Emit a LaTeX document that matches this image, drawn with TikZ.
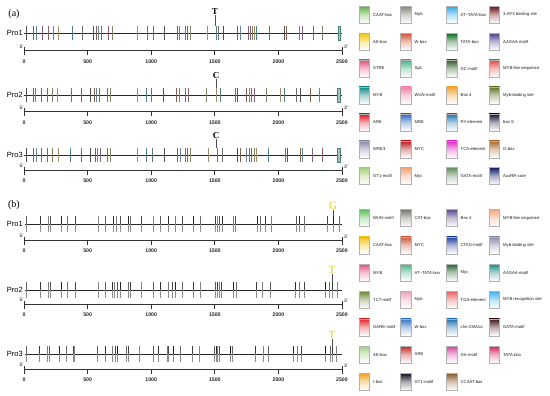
\documentclass[tikz,border=0pt]{standalone}
\usepackage{fontspec}
\setmainfont{Liberation Serif}
\setsansfont{Liberation Sans}
\usetikzlibrary{calc}
% legend colours (a)
\definecolor{aA1}{HTML}{5DB043}\definecolor{aA2}{HTML}{85857A}\definecolor{aA3}{HTML}{2EA6E8}\definecolor{aA4}{HTML}{6A0F12}
\definecolor{aB1}{HTML}{F2C500}\definecolor{aB2}{HTML}{D0502E}\definecolor{aB3}{HTML}{0A6A1E}\definecolor{aB4}{HTML}{4A3A86}
\definecolor{aC1}{HTML}{E2497A}\definecolor{aC2}{HTML}{3DB384}\definecolor{aC3}{HTML}{2B5A22}\definecolor{aC4}{HTML}{E2453F}
\definecolor{aD1}{HTML}{128585}\definecolor{aD2}{HTML}{F07FA2}\definecolor{aD3}{HTML}{F3A233}\definecolor{aD4}{HTML}{5E7226}
\definecolor{aE1}{HTML}{E0101E}\definecolor{aE2}{HTML}{2564C4}\definecolor{aE3}{HTML}{1A73B5}\definecolor{aE4}{HTML}{0F1030}
\definecolor{aF1}{HTML}{8484A2}\definecolor{aF2}{HTML}{B5121A}\definecolor{aF3}{HTML}{E21FC2}\definecolor{aF4}{HTML}{A36325}
\definecolor{aG1}{HTML}{A2D276}\definecolor{aG2}{HTML}{F3A374}\definecolor{aG3}{HTML}{628D5E}\definecolor{aG4}{HTML}{101C62}
% legend colours (b)
\definecolor{bA1}{HTML}{5FBF55}\definecolor{bA2}{HTML}{76786E}\definecolor{bA3}{HTML}{5A4A8E}\definecolor{bA4}{HTML}{F4A57E}
\definecolor{bB1}{HTML}{F4C21A}\definecolor{bB2}{HTML}{C9583A}\definecolor{bB3}{HTML}{1E3C9C}\definecolor{bB4}{HTML}{8A8AA8}
\definecolor{bC1}{HTML}{E2507C}\definecolor{bC2}{HTML}{45B486}\definecolor{bC3}{HTML}{2A6232}\definecolor{bC4}{HTML}{1A8A80}
\definecolor{bD1}{HTML}{6B8A3A}\definecolor{bD2}{HTML}{F0A0BA}\definecolor{bD3}{HTML}{E86262}\definecolor{bD4}{HTML}{40B0F0}
\definecolor{bE1}{HTML}{E02228}\definecolor{bE2}{HTML}{3272C2}\definecolor{bE3}{HTML}{1F6EAE}\definecolor{bE4}{HTML}{3A1212}
\definecolor{bF1}{HTML}{A2D282}\definecolor{bF2}{HTML}{C42424}\definecolor{bF3}{HTML}{D442A2}\definecolor{bF4}{HTML}{D22262}
\definecolor{bG1}{HTML}{F2A222}\definecolor{bG2}{HTML}{12121E}\definecolor{bG3}{HTML}{8A5A2A}
% mark colours
\definecolor{mk0}{HTML}{6E6E6E}\definecolor{mk1}{HTML}{A08E6A}\definecolor{mk2}{HTML}{8E606A}
\definecolor{mk3}{HTML}{6A8498}\definecolor{mk4}{HTML}{505050}\definecolor{mk5}{HTML}{4E8080}
\definecolor{mk6}{HTML}{848462}\definecolor{mk7}{HTML}{80647E}\definecolor{mk8}{HTML}{80604E}
\definecolor{snpyellow}{HTML}{E6CF00}
\tikzset{
  track/.style={line width=0.8pt, black!85},
  rulerline/.style={line width=0.7pt, black!80},
  prolbl/.style={font=\sffamily\fontsize{7.5}{8}\selectfont, anchor=east, inner sep=0pt},
  numlbl/.style={font=\sffamily\bfseries\fontsize{5.2}{6}\selectfont, inner sep=0pt, text=black!85},
  endlbl/.style={font=\sffamily\fontsize{4.8}{5}\selectfont, inner sep=0pt},
  leglbl/.style={font=\sffamily\fontsize{4.2}{5}\selectfont, anchor=west, inner sep=0pt, text=black!90},
  swatch/.style={draw=black!30, line width=0.3pt},
  panel/.style={font=\fontsize{10}{11}\selectfont, inner sep=0pt},
  snplbl/.style={font=\bfseries\fontsize{9}{10}\selectfont, inner sep=0pt},
  ysnplbl/.style={font=\fontsize{11}{12}\selectfont, text=snpyellow, inner sep=0pt},
  stem/.style={line width=0.5pt, black!70},
}
\newcommand\myruler[2]{% #1 y, #2 name prefix
  \draw[rulerline] (24,#1) -- (342,#1);
  \draw[rulerline] (24,#1-3) -- (24,#1+5);
  \draw[rulerline] (342,#1-3) -- (342,#1+5);
  \foreach \v in {500,1000,1500,2000} {\draw[rulerline] ({24+\v*0.1272},#1) -- ++(0,5);}
  \foreach \v in {0,500,1000,1500,2000,2500} {\node[numlbl] (#2n\v) at ({24+\v*0.1272},#1+11) {\v};}
  \node[endlbl] (#2five) at (21.5,#1-4) {5'};
  \node[endlbl] (#2three) at (346,#1-3.5) {3'};
}
\newcommand\amarks[2]{% #1 y, #2 list
  \foreach \x [count=\i] in {#2} {%
    \pgfmathtruncatemacro\k{mod(\i*4,9)}%
    \draw[mk\k, line width=0.8pt] (\x,#1-7) -- (\x,#1+7);}
}
\newcommand\bmarks[2]{% #1 y, #2 list
  \foreach \x [count=\i] in {#2} {%
    \pgfmathtruncatemacro\k{45+mod(\i*17,45)}%
    \draw[black!\k, line width=0.8pt] (\x,#1-8) -- (\x,#1);
    \draw[black!45, line width=0.8pt] (\x,#1) -- (\x,#1+8);}
}
\newcommand\legitem[4]{% x, ycenter, colour, text
  \shade[top color=#3, bottom color=white, middle color=#3!35!white] (#1,#2-8.5) rectangle (#1+10.5,#2+8.5);
  \draw[swatch] (#1,#2-8.5) rectangle (#1+10.5,#2+8.5);
  \node[leglbl] at (#1+14,#2) {#4};
}
\begin{document}
\begin{tikzpicture}[x=1pt,y=-1pt]
\useasboundingbox[fill=white] (0,0) rectangle (550,396);
% ================= (a) =================
\node[panel] (pa) at (14,14) {(a)};
% Pro1
\draw[track] (24,33) -- (342,33);
\amarks{33}{26,33,36,42,48,53,58,72,82,93,96,98.5,101.5,108,112,137,147,153,164,177,179,185,187,190,207,216,218,223,237,240,248,250,252.5,254.5,256,269,284,286,299.5,302,313,322}
\draw[draw=mk5, fill=mk5!50, line width=0.4pt] (338,26) rectangle (340.5,40);
\node[prolbl] (a1) at (23,33) {Pro1};
\node[snplbl] (aT) at (215,12) {T};
\draw[stem] (aT.south) -- (215,26);
\myruler{50.5}{ra1}
% Pro2
\draw[track] (24,95) -- (342,95);
\amarks{95}{26.7,33.3,35.5,41.7,47.7,52.7,57,71,81,90,94,96.7,99.3,107.3,110,137.3,146.7,151.7,163.3,176.7,179.3,185,188.3,206.5,216,220.5,235,237.3,246.5,249,251.7,254,266.7,280.7,284,296.7,300,310,319.3}
\draw[draw=mk5, fill=mk5!50, line width=0.4pt] (337.5,88) rectangle (340,102);
\node[prolbl] (a2) at (23,95) {Pro2};
\node[snplbl] (aC2) at (216,76) {C};
\draw[stem] (aC2.south) -- (216,88);
\myruler{111.5}{ra2}
% Pro3
\draw[track] (24,155) -- (342,155);
\amarks{155}{26,33.3,36,41.7,47.3,52.7,58.3,70.7,81.7,90.7,95,97.3,100,107.3,110.7,137.3,146.7,152.7,164,177.3,180,185,187.3,190,208.3,217.3,222.7,237.3,240,246,249.3,251.7,254,256,268.3,285,287,300,302,312,322}
\draw[draw=mk5, fill=mk5!50, line width=0.4pt] (337.5,148) rectangle (340,162);
\node[prolbl] (a3) at (23,155) {Pro3};
\node[snplbl] (aC3) at (216,136) {C};
\draw[stem] (aC3.south) -- (216,148);
\myruler{170}{ra3}
% legend (a)
\foreach \ca/\ta/\cb/\tb/\cc/\tc/\cd/\td [count=\j from 0] in {
  aA1/CAAT-box/aA2/Myb/aA3/AT\textasciitilde TATA-box/aA4/3-AF3 binding site,
  aB1/AE-box/aB2/W box/aB3/TATA-box/aB4/AAGAA-motif,
  aC1/STRE/aC2/Sp1/aC3/GC-motif/aC4/MYB-like sequence,
  aD1/MYB/aD2/WUN-motif/aD3/Box 4/aD4/Myb-binding site,
  aE1/ARE/aE2/MRE/aE3/RY-element/aE4/box S,
  aF1/WRE3/aF2/MYC/aF3/TCA-element/aF4/G-box,
  aG1/GT1-motif/aG2/Myc/aG3/GATA-motif/aG4/AuxRR-core} {
  \pgfmathsetmacro\yy{14.7+26.9*\j}
  \legitem{359}{\yy}{\ca}{\ta}
  \legitem{400.5}{\yy}{\cb}{\tb}
  \legitem{446.5}{\yy}{\cc}{\tc}
  \legitem{489}{\yy}{\cd}{\td}
}
% ================= (b) =================
\node[panel] (pb) at (14,205) {(b)};
% Pro1
\draw[track] (25,224) -- (342,224);
\bmarks{224}{26,40,48,50,61,67,75,98,105,113,116,120,128,130,141,153,160,168,175,182,193,200,215,217,219,222,233,235.5,257,260,265,271,296,299,304,327,333,339}
\node[prolbl] (b1) at (23,224) {Pro1};
\node[ysnplbl] (bG) at (333,206) {G};
\draw[stem] (bG.south) -- (333,216);
\myruler{240}{rb1}
% Pro2
\draw[track] (25,290) -- (342,290);
\bmarks{290}{26,40,48,50,61,67,75,98,105,112,114.5,117,120,128,130,141,153,160,168,172,175,182,193,200,215,217,219,221,233,236,256,262,270,295,299,304,325,329,332,337}
\node[prolbl] (b2) at (23,290) {Pro2};
\node[ysnplbl] (bT2) at (332,270) {T};
\draw[stem] (bT2.south) -- (332,282);
\myruler{304}{rb2}
% Pro3
\draw[track] (25,354) -- (342,354);
\bmarks{354}{26,39.5,47,49.5,59.5,66,73,74.5,97,105,112,115,117.5,126,128.5,139.5,153,158.5,167,168.5,173.5,180,192,199.5,214,216,217.5,219.5,230,232.5,255,263,268,293,297.5,301.5,325,330.5,332,336}
\node[prolbl] (b3) at (23,354) {Pro3};
\node[ysnplbl] (bT3) at (332,335) {T};
\draw[stem] (bT3.south) -- (332,346);
\myruler{369}{rb3}
% legend (b)
\foreach \ca/\ta/\cb/\tb/\cc/\tc/\cd/\td [count=\j from 0] in {
  bA1/WUN-motif/bA2/CAT-box/bA3/Box 4/bA4/MYB-like sequence,
  bB1/CAAT-box/bB2/MYC/bB3/CTAG-motif/bB4/Myb-binding site,
  bC1/MYB/bC2/AT\textasciitilde TATA-box/bC3/Myc/bC4/AAGAA-motif,
  bD1/TCT-motif/bD2/Myb/bD3/TGA-element/bD4/MYB recognition site,
  bE1/GARE-motif/bE2/W box/bE3/chs-CMA1a/bE4/GATA-motif,
  bF1/AE-box/bF2/ARE/bF3/GA-motif/bF4/TATA-box} {
  \pgfmathsetmacro\yy{218+27.3*\j}
  \legitem{359}{\yy}{\ca}{\ta}
  \legitem{400.5}{\yy}{\cb}{\tb}
  \legitem{446.5}{\yy}{\cc}{\tc}
  \legitem{489}{\yy}{\cd}{\td}
}
\legitem{359}{381.8}{bG1}{I-box}
\legitem{400.5}{381.8}{bG2}{GT1-motif}
\legitem{446.5}{381.8}{bG3}{CCAAT-box}
\end{tikzpicture}
\end{document}
